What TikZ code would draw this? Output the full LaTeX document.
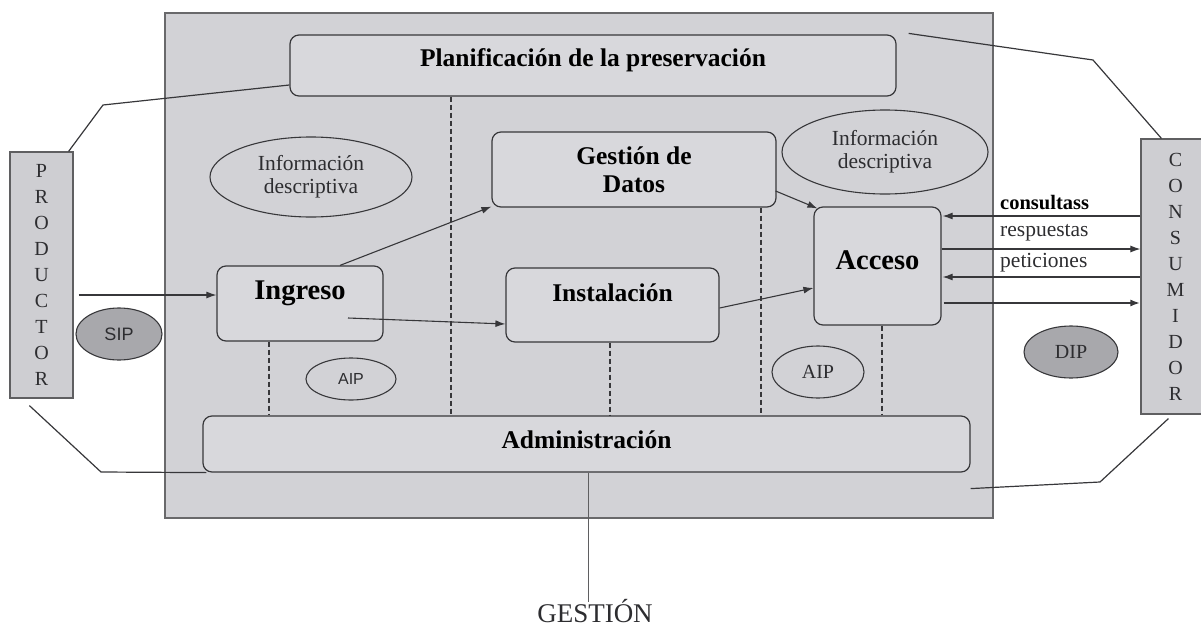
\documentclass[tikz,border=0pt]{standalone}
\usepackage{fontspec}
\setmainfont{Liberation Serif}
\newfontfamily\sansf{Liberation Sans}
\usetikzlibrary{shapes.geometric,arrows.meta}
\definecolor{bgc}{RGB}{210,210,214}
\definecolor{boxc}{RGB}{216,216,220}
\definecolor{sidec}{RGB}{206,206,210}
\definecolor{darkell}{RGB}{168,168,172}
\definecolor{linec}{RGB}{55,55,58}
\definecolor{txtc}{RGB}{45,45,48}
\tikzset{
  box/.style={draw=linec, fill=boxc, rounded corners=9pt, line width=1.2pt, inner sep=0pt},
  sidebox/.style={draw=linec!80, fill=sidec, line width=1.2pt, inner sep=0pt, align=center,
    text=txtc, font=\fontsize{20}{26}\selectfont},
  bfont/.style={font=\bfseries\fontsize{25.5}{28}\selectfont, text=black},
  bbig/.style={font=\bfseries\fontsize{28.5}{30}\selectfont, text=black},
  infoell/.style={ellipse, draw=linec, fill=bgc, line width=1.1pt, inner sep=0pt, align=center,
    text=txtc, font=\fontsize{21.5}{23}\selectfont},
  pkg/.style={ellipse, draw=linec, line width=1.1pt, inner sep=0pt, text=txtc},
  arr/.style={-{Latex[length=10pt,width=7pt]}, draw=linec, line width=1.1pt},
  plain/.style={draw=linec, line width=1.2pt},
  sepline/.style={draw=linec, line width=1.2pt, dash pattern=on 5pt off 3pt},
  lbl/.style={anchor=west, inner sep=0pt, text=txtc, font=\fontsize{21.5}{24}\selectfont},
}
\begin{document}
\begin{tikzpicture}[x=1pt,y=-1pt]
\useasboundingbox (0,0) rectangle (1201,626);
\begin{scope}
\clip (0,0) rectangle (1201,626);
% outer system area
\draw[fill=bgc, draw=linec!75, line width=1.5pt] (165,13) rectangle (993,518);

% main boxes
\node[box, minimum width=606, minimum height=61,
  label={[bfont, yshift=5.5pt]center:Planificación de la preservación}] (plan) at (593,65.5) {};
\node[box, minimum width=284, minimum height=75, align=center, bfont] (gestion) at (634,169.5) {Gestión de\\Datos};
\node[box, minimum width=166, minimum height=75,
  label={[bbig, yshift=10.5pt]center:Ingreso}] (ingreso) at (300,303.5) {};
\node[box, minimum width=213, minimum height=74,
  label={[bfont, yshift=12pt]center:Instalación}] (instal) at (612.5,305) {};
\node[box, minimum width=127, minimum height=118,
  label={[bbig, yshift=6pt]center:Acceso}] (acceso) at (877.5,266) {};
\node[box, minimum width=767, minimum height=56,
  label={[bfont, yshift=4pt]center:Administración}] (admin) at (586.5,444) {};

% producer / consumer
\node[sidebox, minimum width=63, minimum height=246] (prod) at (41.5,275) {P\\R\\O\\D\\U\\C\\T\\O\\R};
\node[sidebox, minimum width=69, minimum height=275, text width=69pt] (cons) at (1175.5,276.5) {C\\O\\N\\S\\U\\M\\I\\D\\O\\R};

% ellipses
\node[infoell, minimum width=202, minimum height=80] (info1) at (311,177) {Información\\descriptiva};
\node[infoell, minimum width=206, minimum height=84] (info2) at (885,152) {Información\\descriptiva};
\node[pkg, fill=darkell, minimum width=86, minimum height=52, font=\sansf\fontsize{18}{20}\selectfont] (sip) at (119,334) {SIP};
\node[pkg, fill=bgc, minimum width=90, minimum height=42, font=\sansf\fontsize{16}{18}\selectfont] (aip1) at (351,379) {AIP};
\node[pkg, fill=bgc, minimum width=92, minimum height=52, font=\fontsize{20}{22}\selectfont] (aip2) at (818,372) {AIP};
\node[pkg, fill=darkell, minimum width=94, minimum height=52, font=\fontsize{20}{22}\selectfont] (dip) at (1071,352) {DIP};

% dashed separators
\draw[sepline] (ingreso.south -| 269,0) -- (admin.north -| 269,0);
\draw[sepline] (plan.south -| 451,0) -- (admin.north -| 451,0);
\draw[sepline] (instal.south -| 610,0) -- (admin.north -| 610,0);
\draw[sepline] (gestion.south -| 761,0) -- (admin.north -| 761,0);
\draw[sepline] (acceso.south -| 882,0) -- (admin.north -| 882,0);

% flows
\draw[arr] ([xshift=5pt]prod.east |- 0,295) -- (ingreso.west |- 0,295);
\draw[arr] ([xshift=40pt]ingreso.north) -- ([yshift=1pt]gestion.south west);
\draw[arr] ([xshift=48pt,yshift=-14.5pt]ingreso.center) -- ([yshift=-19pt]instal.west);
\draw[arr] ([yshift=-3pt]instal.east) -- ([yshift=-22pt]acceso.west);
\draw[arr] ([xshift=-1pt,yshift=-21.5pt]gestion.east) -- ([xshift=4pt,yshift=-2pt]acceso.north west);

% consumer exchanges
\draw[arr] (cons.west |- 0,216) -- ([xshift=1pt]acceso.east |- 0,216);
\draw[arr] (acceso.east |- 0,249) -- (cons.west |- 0,249);
\draw[arr] (cons.west |- 0,277) -- ([xshift=1pt]acceso.east |- 0,277);
\draw[arr, line width=2pt] ([xshift=2pt]acceso.east |- 0,303) -- (cons.west |- 0,303);
\node[lbl, font=\bfseries\fontsize{20.5}{24}\selectfont, text=black] (lc) at (1000,203) {consultass};
\node[lbl] (lr) at (1000,233) {respuestas};
\node[lbl] (lp) at (1000,263) {peticiones};

% plain connectors
\draw[plain] ([yshift=-19.5pt]plan.west) -- (103,105) -- ([xshift=-5pt]prod.north east);
\draw[plain] ([xshift=12pt,yshift=1pt]plan.north east) -- (1093,60) -- ([xshift=21pt]cons.north west);
\draw[plain] ([xshift=4pt]admin.south west) -- (101,472) -- ([xshift=20pt,yshift=-7pt]prod.south west);
\draw[plain] ([yshift=-16pt]admin.south east) -- (1100,482) -- ([xshift=28pt,yshift=-4pt]cons.south west);

% GESTION
\node[inner sep=0pt, anchor=base, font=\fontsize{27}{30}\selectfont, text=txtc] (gest) at (595,622) {GESTIÓN};
\coordinate (gl) at (588,602);
\draw[draw=linec!80, line width=1pt] (admin.south -| gl) -- (gl);
\end{scope}
\end{tikzpicture}
\end{document}
